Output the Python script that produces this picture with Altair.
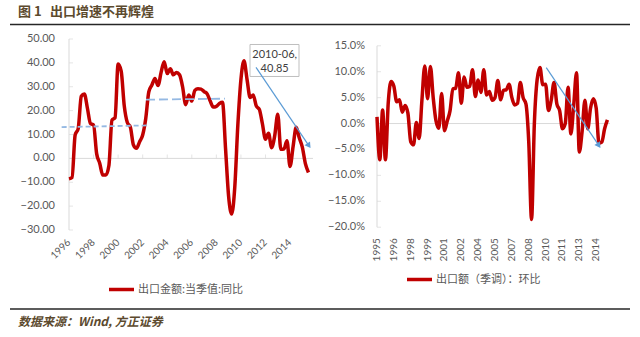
import altair as alt
import pandas as pd

# ---------------- data ----------------
LEFT_START = 1996  # quarterly, 1996Q1 ...
left_yoy = [
    -8.6, -8.0, 9.8, 12.5, 26.0, 27.0, 21.0, 14.6,
    14.0, 2.0, -2.0, -7.0, -7.0, -3.0, 16.0, 17.0,
    39.5, 36.5, 22.0, 15.0, 13.0, 5.6, 4.2, 7.0,
    9.8, 16.7, 27.9, 30.7, 33.5, 30.5, 36.0, 40.5,
    35.5, 37.5, 35.0, 36.0, 35.0, 30.0, 22.5, 26.5,
    24.0, 28.5, 29.2, 29.0, 28.0, 27.0, 24.0, 21.5,
    21.8, 23.0, 23.5, 4.0, -16.0, -23.3, -12.0, 14.0,
    33.0, 40.85, 33.0, 25.5, 26.5, 22.0, 20.5, 14.5,
    8.0, 10.5, 4.5, 9.4, 18.5, 3.8, 3.9, 7.4,
    -3.4, 5.0, 13.0, 8.6, 4.7, -2.2, -5.9,
]
RIGHT_START = 1995  # quarterly, 1995Q1 ...
right_qoq = [
    1.3, -7.0, 2.6, -7.0, 4.0, 8.1, 7.2, 4.2,
    4.6, 2.2, 3.5, 2.0, -3.5, -4.1, 0.2, -2.9,
    4.6, 11.1, 4.8, 11.0, 5.0, 0.5, -0.9, 5.8,
    -1.4, 0.5, 2.5, 6.7, 6.8, 9.8, 3.9, 9.0,
    7.0, 7.2, 10.4, 5.2, 8.4, 6.0, 10.4, 5.5,
    6.2, 4.5, 5.0, 8.3, 4.6, 6.4, 6.5, 7.6,
    5.0, 3.6, 3.9, 7.9, 5.0, 3.8, -3.5, -18.5,
    0.0, 8.5, 10.8, 7.5, 7.6, 2.5, 4.5, 7.9,
    3.8, 2.5, -1.0, 0.0, 7.0, -2.0, 3.5, 9.8,
    -5.5, -1.5, 4.5, -1.0, 3.0, 4.8, 3.0, -3.8,
    -3.6, -1.0, 0.7,
]

left_name = "出口金额:当季值:同比"
right_name = "出口额（季调）：环比"

left_y_ticks = [-30, -20, -10, 0, 10, 20, 30, 40, 50]
left_x_years = [1996, 1998, 2000, 2002, 2004, 2006, 2008, 2010, 2012, 2014]
right_y_ticks = [-20, -15, -10, -5, 0, 5, 10, 15]
right_label_quarters = [0, 6, 12, 18, 24, 30, 36, 42, 48, 54, 60, 66, 72, 78]
right_x_labels = ["1995", "1996", "1998", "1999", "2001", "2002", "2004",
                  "2005", "2007", "2008", "2010", "2011", "2013", "2014"]

# trend guides (left) and arrows
left_trend_a_t = [1995.4, 2002.43]
left_trend_a_v = [13.1, 13.8]
left_trend_b_t = [2002.27, 2008.70]
left_trend_b_v = [24.6, 25.0]
left_arrow_t = [2011.23, 2015.49]
left_arrow_v = [38.1, 5.65]
right_arrow_t = [2010.06, 2014.69]
right_arrow_v = [10.8, -4.08]

note_lines = ["2010-06,", "40.85"]

# ---------------- styles ----------------
RED = "#C00000"
BLUE = "#5B9BD5"
DASH_BLUE = "#95B9E3"
GRID = "#D9D9D9"
TXT = "#595959"
BROWN = "#5C4A2E"
NUMFONT = "Lato"
CJK = "Noto Sans CJK SC"

LX = alt.Scale(domain=[1996, 2015.87], range=[69, 313], nice=False, zero=False)
LY = alt.Scale(domain=[-30, 50], range=[230, 39], nice=False, zero=False)
RX = alt.Scale(domain=[1995, 2015.73], range=[377, 610], nice=False, zero=False)
RY = alt.Scale(domain=[-20, 15], range=[227.2, 45.8], nice=False, zero=False)


def enc(xs, ys):
    def X(f):
        return alt.X(f, type="quantitative", scale=xs, axis=None)

    def Y(f):
        return alt.Y(f, type="quantitative", scale=ys, axis=None)
    return X, Y


def panel(series_t, series_v, name, xs, ys, x0, x1, y0, y1, yticks, ylab_fmt,
          ylab_off, xlab_df, xlab_angle, xlab_yoff, zero_ticks, legend_xy,
          extras):
    X, Y = enc(xs, ys)
    layers = []
    # y axis line
    layers.append(alt.Chart(pd.DataFrame({"t": [x0], "v": [y0], "v2": [y1]}))
                  .mark_rule(color=GRID, strokeWidth=1)
                  .encode(x=X("t"), y=Y("v"), y2="v2"))
    # y ticks (inward)
    layers.append(alt.Chart(pd.DataFrame({"t": [x0] * len(yticks), "v": yticks}))
                  .mark_tick(orient="horizontal", size=4, thickness=1, xOffset=2, color=GRID)
                  .encode(x=X("t"), y=Y("v")))
    # zero line
    layers.append(alt.Chart(pd.DataFrame({"t": [x0], "t2": [x1], "v": [0]}))
                  .mark_rule(color=GRID, strokeWidth=1)
                  .encode(x=X("t"), x2="t2", y=Y("v")))
    if zero_ticks:
        layers.append(alt.Chart(pd.DataFrame({"t": zero_ticks, "v": [0] * len(zero_ticks)}))
                      .mark_tick(orient="vertical", size=4, thickness=1, yOffset=-2, color=GRID)
                      .encode(x=X("t"), y=Y("v")))
    # y labels
    ydf = pd.DataFrame({"t": [x0] * len(yticks), "v": yticks})
    layers.append(alt.Chart(ydf)
                  .transform_calculate(lab=ylab_fmt)
                  .mark_text(align="right", baseline="middle", xOffset=ylab_off,
                             font=NUMFONT, fontSize=11, color=TXT)
                  .encode(x=X("t"), y=Y("v"), text="lab:N"))
    # x labels
    layers.append(alt.Chart(xlab_df)
                  .mark_text(align="right", baseline="middle", angle=xlab_angle,
                             yOffset=xlab_yoff, font=NUMFONT, fontSize=10, color=TXT)
                  .encode(x=X("t"), y=Y("v"), text="lab:N"))
    # main series
    sdf = pd.DataFrame({"t": series_t, "v": series_v, "s": name})
    layers.append(alt.Chart(sdf)
                  .mark_line(strokeWidth=3.5, interpolate="monotone")
                  .encode(x=X("t"), y=Y("v"),
                          color=alt.Color("s:N",
                                          scale=alt.Scale(domain=[name], range=[RED]),
                                          legend=alt.Legend(orient="none", legendX=legend_xy[0],
                                                            legendY=legend_xy[1], title=None,
                                                            padding=0, symbolType="stroke",
                                                            symbolSize=625, symbolStrokeWidth=3.5,
                                                            labelFont=CJK, labelFontSize=11,
                                                            labelColor=TXT, labelOffset=2))))
    layers += extras(X, Y)
    return alt.layer(*layers)


def left_extras(X, Y):
    out = []
    out.append(alt.Chart(pd.DataFrame({"t": left_trend_a_t, "v": left_trend_a_v}))
               .mark_line(color=DASH_BLUE, strokeWidth=1.8, strokeDash=[5, 3])
               .encode(x=X("t"), y=Y("v")))
    out.append(alt.Chart(pd.DataFrame({"t": left_trend_b_t, "v": left_trend_b_v}))
               .mark_line(color=DASH_BLUE, strokeWidth=1.8, strokeDash=[9, 4])
               .encode(x=X("t"), y=Y("v")))
    out.append(alt.Chart(pd.DataFrame({"t": [2010.74], "t2": [2014.73], "v": [47.7], "v2": [34.3]}))
               .mark_rect(fill="white", stroke="#BFBFBF", strokeWidth=1)
               .encode(x=X("t"), x2="t2", y=Y("v"), y2="v2"))
    out.append(alt.Chart(pd.DataFrame({"t": [2012.75, 2012.75], "v": [43.5, 37.6], "lab": note_lines}))
               .mark_text(align="center", baseline="middle", font=NUMFONT, fontSize=11, color="#404040")
               .encode(x=X("t"), y=Y("v"), text="lab:N"))
    out.append(alt.Chart(pd.DataFrame({"t": left_arrow_t, "v": left_arrow_v}))
               .mark_line(color=BLUE, strokeWidth=1.2)
               .encode(x=X("t"), y=Y("v")))
    out.append(alt.Chart(pd.DataFrame({"t": [left_arrow_t[1]], "v": [left_arrow_v[1]]}))
               .mark_point(shape="triangle", size=45, filled=True, opacity=1, color=BLUE, angle=146)
               .encode(x=X("t"), y=Y("v")))
    return out


def right_extras(X, Y):
    out = []
    out.append(alt.Chart(pd.DataFrame({"t": right_arrow_t, "v": right_arrow_v}))
               .mark_line(color=BLUE, strokeWidth=1.2)
               .encode(x=X("t"), y=Y("v")))
    out.append(alt.Chart(pd.DataFrame({"t": [right_arrow_t[1]], "v": [right_arrow_v[1]]}))
               .mark_point(shape="triangle", size=45, filled=True, opacity=1, color=BLUE, angle=146)
               .encode(x=X("t"), y=Y("v")))
    return out


left_t = [LEFT_START + i / 4 for i in range(len(left_yoy))]
right_t = [RIGHT_START + i / 4 for i in range(len(right_qoq))]

left_xlab = pd.DataFrame({"t": left_x_years, "lab": [str(y) for y in left_x_years],
                          "v": [-30] * len(left_x_years)})
right_xlab = pd.DataFrame({"t": [RIGHT_START + q / 4 for q in right_label_quarters],
                           "lab": right_x_labels, "v": [-20] * len(right_x_labels)})

left_panel = panel(left_t, left_yoy, left_name, LX, LY, 1996, 2015.87, -30, 50,
                   left_y_ticks, "format(datum.v, '.2f')", -14, left_xlab, 315, 11,
                   left_x_years[1:], (107, 275), left_extras)
right_panel = panel(right_t, right_qoq, right_name, RX, RY, 1995, 2015.73, -20, 15,
                    right_y_ticks, "format(datum.v, '.1f') + '%'", -12, right_xlab, 270, 11,
                    None, (405, 265), right_extras)

# ---------------- page decorations ----------------
one = pd.DataFrame({"a": [0]})
deco = [
    alt.Chart(one).mark_text(text="图 1", align="left", baseline="middle", font=CJK,
                             fontSize=13, fontWeight="bold", color=BROWN)
    .encode(x=alt.value(18), y=alt.value(12)),
    alt.Chart(one).mark_text(text="出口增速不再辉煌", align="left", baseline="middle", font=CJK,
                             fontSize=13, fontWeight="bold", color=BROWN)
    .encode(x=alt.value(50), y=alt.value(12)),
    alt.Chart(one).mark_rule(color="#262626", strokeWidth=1.5)
    .encode(x=alt.value(10), x2=alt.value(630), y=alt.value(24.5)),
    alt.Chart(one).mark_rule(color="#262626", strokeWidth=1.5)
    .encode(x=alt.value(10), x2=alt.value(630), y=alt.value(309)),
    alt.Chart(one).mark_text(text="数据来源：Wind, 方正证券", align="left", baseline="middle",
                             font=CJK, fontSize=12, fontWeight="bold", fontStyle="italic",
                             color=BROWN)
    .encode(x=alt.value(18), y=alt.value(322)),
]

chart = (
    alt.layer(left_panel, right_panel, *deco)
    .resolve_scale(x="independent", y="independent", color="independent")
    .resolve_legend(color="independent")
    .properties(width=640, height=337, padding=0, autosize=alt.AutoSizeParams(type="none"))
    .configure_view(strokeWidth=0)
)

chart.save("out.html", embed_options={"renderer": "svg", "actions": False})
